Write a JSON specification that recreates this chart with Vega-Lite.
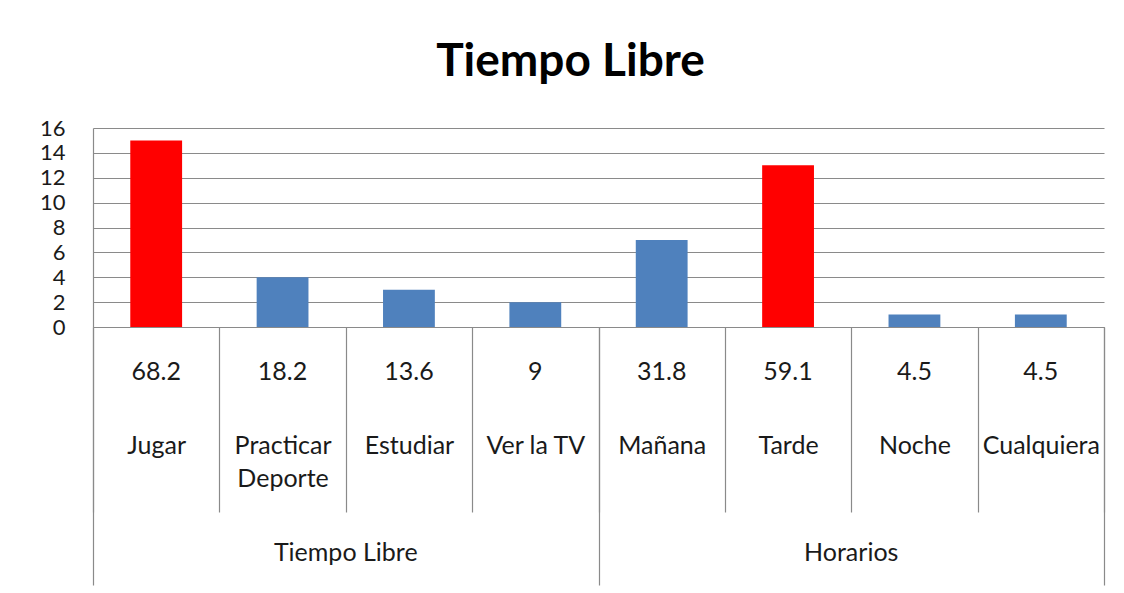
{
  "$schema": "https://vega.github.io/schema/vega-lite/v6.json",
  "width": 1011,
  "height": 199,
  "autosize": "none",
  "padding": {"left": 93, "top": 128, "right": 20, "bottom": 266},
  "background": "white",
  "config": {"font": "Lato", "view": {"stroke": null}},
  "title": {
    "text": "Tiempo Libre",
    "fontSize": 46,
    "fontWeight": "bold",
    "font": "Lato",
    "color": "#000000",
    "anchor": "middle",
    "dx": -28,
    "baseline": "alphabetic",
    "offset": -5
  },
  "datasets": {
    "actividades": [
      {"grupo": "Tiempo Libre", "actividad": "Jugar", "porcentaje": 68.2, "frecuencia": 15},
      {"grupo": "Tiempo Libre", "actividad": "Practicar Deporte", "porcentaje": 18.2, "frecuencia": 4},
      {"grupo": "Tiempo Libre", "actividad": "Estudiar", "porcentaje": 13.6, "frecuencia": 3},
      {"grupo": "Tiempo Libre", "actividad": "Ver la TV", "porcentaje": 9, "frecuencia": 2},
      {"grupo": "Horarios", "actividad": "Mañana", "porcentaje": 31.8, "frecuencia": 7},
      {"grupo": "Horarios", "actividad": "Tarde", "porcentaje": 59.1, "frecuencia": 13},
      {"grupo": "Horarios", "actividad": "Noche", "porcentaje": 4.5, "frecuencia": 1},
      {"grupo": "Horarios", "actividad": "Cualquiera", "porcentaje": 4.5, "frecuencia": 1}
    ],
    "grupos": [
      {"grupo": "Tiempo Libre"},
      {"grupo": "Horarios"}
    ]
  },
  "layer": [
    {
      "data": {"name": "actividades"},
      "transform": [
        {"joinaggregate": [{"op": "max", "field": "frecuencia", "as": "maxGrupo"}], "groupby": ["grupo"]}
      ],
      "layer": [
        {
          "mark": {"type": "bar", "width": {"band": 0.41}},
          "encoding": {
            "x": {
              "field": "actividad",
              "type": "nominal",
              "sort": null,
              "scale": {"paddingInner": 0, "paddingOuter": 0},
              "axis": {
                "title": null,
                "domain": true,
                "domainColor": "#8a8a8a",
                "domainWidth": 1.2,
                "ticks": true,
                "tickBand": "extent",
                "tickSize": 185,
                "tickColor": "#8a8a8a",
                "tickWidth": 1.2,
                "grid": false,
                "labelAngle": 0,
                "labelFont": "Lato",
                "labelFontSize": 25,
                "labelColor": "#1a1a1a",
                "labelBaseline": "top",
                "labelPadding": -79,
                "labelLineHeight": 33,
                "labelOverlap": false,
                "labelLimit": 200,
                "labelExpr": "datum.value == 'Practicar Deporte' ? ['Practicar', 'Deporte'] : datum.value"
              }
            },
            "y": {
              "field": "frecuencia",
              "type": "quantitative",
              "scale": {"domain": [0, 16], "nice": false},
              "axis": {
                "title": null,
                "values": [0, 2, 4, 6, 8, 10, 12, 14, 16],
                "grid": true,
                "gridColor": "#8a8a8a",
                "gridWidth": 1.2,
                "ticks": false,
                "domain": true,
                "domainColor": "#8a8a8a",
                "domainWidth": 1.2,
                "labelFont": "Lato",
                "labelFontSize": 22,
                "labelColor": "#1a1a1a",
                "labelPadding": 28,
                "labelFlush": false,
                "labelOverlap": false
              }
            },
            "color": {
              "condition": {"test": "datum.frecuencia == datum.maxGrupo", "value": "#FF0000"},
              "value": "#4F81BD"
            }
          }
        },
        {
          "mark": {"type": "text", "dy": 45, "fontSize": 25, "font": "Lato", "color": "#1a1a1a", "baseline": "middle", "align": "center"},
          "encoding": {
            "x": {"field": "actividad", "type": "nominal", "sort": null},
            "y": {
              "datum": 0,
              "type": "quantitative",
              "axis": {
                "title": null,
                "values": [0, 2, 4, 6, 8, 10, 12, 14, 16],
                "grid": true,
                "gridColor": "#8a8a8a",
                "gridWidth": 1.2,
                "ticks": false,
                "domain": true,
                "domainColor": "#8a8a8a",
                "domainWidth": 1.2,
                "labelFont": "Lato",
                "labelFontSize": 22,
                "labelColor": "#1a1a1a",
                "labelPadding": 28,
                "labelFlush": false,
                "labelOverlap": false
              }
            },
            "text": {"field": "porcentaje", "type": "quantitative"}
          }
        }
      ]
    },
    {
      "data": {"name": "grupos"},
      "mark": {"type": "text", "dy": 226, "fontSize": 25, "font": "Lato", "color": "#1a1a1a", "baseline": "middle", "align": "center"},
      "encoding": {
        "x": {
          "field": "grupo",
          "type": "nominal",
          "sort": null,
          "scale": {"paddingInner": 0, "paddingOuter": 0},
          "axis": {
            "orient": "bottom",
            "title": null,
            "labels": false,
            "domain": false,
            "grid": false,
            "ticks": true,
            "tickBand": "extent",
            "tickSize": 258,
            "tickColor": "#8a8a8a",
            "tickWidth": 1.2
          }
        },
        "y": {
          "datum": 0,
          "type": "quantitative",
          "axis": {
            "title": null,
            "values": [0, 2, 4, 6, 8, 10, 12, 14, 16],
            "grid": true,
            "gridColor": "#8a8a8a",
            "gridWidth": 1.2,
            "ticks": false,
            "domain": true,
            "domainColor": "#8a8a8a",
            "domainWidth": 1.2,
            "labelFont": "Lato",
            "labelFontSize": 22,
            "labelColor": "#1a1a1a",
            "labelPadding": 28,
            "labelFlush": false,
            "labelOverlap": false
          }
        },
        "text": {"field": "grupo", "type": "nominal"}
      }
    }
  ],
  "resolve": {"scale": {"x": "independent"}}
}
